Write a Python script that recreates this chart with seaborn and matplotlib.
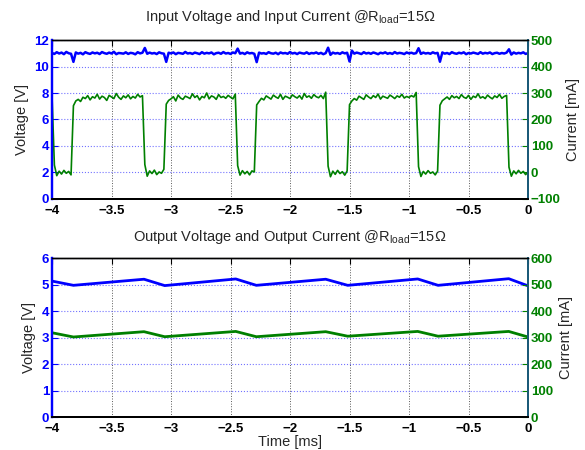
import numpy as np
import matplotlib
matplotlib.use("Agg")
import matplotlib.pyplot as plt
import seaborn as sns

# ---- data read off the scope captures ----
# top panel: sampled every 0.02 ms from -4 to 0 ms (201 samples)
t_in = np.linspace(-4, 0, 201)

v_in = [
    11.02, 10.95, 11.08, 10.98, 11.05, 10.93, 11.10, 11.00, 10.96, 10.35,
    11.06, 10.97, 11.03, 10.92, 11.08, 11.00, 10.95, 11.06, 10.99, 11.04,
    10.94, 11.09, 11.01, 10.96, 11.05, 10.98, 11.11, 10.93, 11.02, 11.00,
    10.97, 11.07, 10.95, 11.03, 11.00, 10.92, 11.08, 10.99, 11.04, 11.40,
    10.96, 11.05, 10.98, 11.02, 10.94, 11.07, 11.00, 10.97, 10.35, 11.04,
    10.99, 11.06, 10.93, 11.03, 11.00, 10.96, 11.10, 10.98, 11.02, 10.95,
    11.05, 11.00, 10.94, 11.08, 10.97, 11.03, 10.99, 11.06, 10.92, 11.01,
    11.04, 10.96, 11.09, 10.98, 11.02, 10.95, 11.06, 11.00, 11.35, 10.97,
    11.03, 10.94, 11.07, 10.99, 11.02, 10.96, 10.33, 11.05, 10.98, 11.01,
    10.95, 11.08, 11.00, 10.97, 11.04, 10.93, 11.06, 10.99, 11.02, 10.96,
    11.09, 10.98, 11.03, 10.94, 11.05, 11.00, 10.97, 11.07, 10.95, 11.02,
    10.99, 11.06, 10.96, 11.03, 10.93, 11.01, 11.42, 10.88, 11.05, 10.98,
    11.02, 10.95, 11.07, 10.99, 11.04, 10.38, 11.20, 10.97, 11.05, 11.00,
    10.94, 11.08, 10.98, 11.03, 10.96, 11.06, 11.00, 10.93, 11.04, 10.99,
    11.07, 10.96, 11.02, 10.95, 11.09, 10.98, 11.03, 11.00, 10.94, 11.06,
    10.99, 11.04, 10.97, 11.01, 11.38, 10.95, 11.05, 10.98, 11.02, 10.96,
    11.07, 10.99, 11.03, 10.36, 11.06, 10.97, 11.02, 10.94, 11.08, 11.00,
    10.96, 11.04, 10.99, 11.07, 10.93, 11.02, 10.98, 11.05, 11.00, 10.95,
    11.08, 10.97, 11.03, 10.99, 11.06, 10.94, 11.01, 11.04, 10.96, 11.02,
    10.98, 11.05, 11.30, 10.90, 11.06, 10.97, 11.03, 10.99, 11.07, 10.95,
    11.01,
]

i_in = [
    290,
    28, -12, 5, -6, 8, -3, 4, -9,
    252, 270, 276, 268, 284, 279, 290, 274, 286, 281, 295, 277, 288, 283, 272,
    291, 285, 279, 298, 284, 276, 289, 282, 293, 278, 287, 281, 295, 285, 290,
    30, -14, 6, -4, 9, -8, 2, -3, 12,
    258, 272, 278, 286, 270, 292, 281, 276, 288, 284, 279, 297, 283, 290, 274,
    287, 282, 300, 278, 289, 285, 276, 294, 283, 287, 280, 291, 284, 278, 296,
    26, -10, 7, -5, 4, -9, 6, 2,
    255, 268, 280, 274, 289, 283, 277, 292, 285, 280, 295, 276, 288, 284, 279,
    293, 286, 281, 290, 277, 298, 284, 289, 280, 294, 286, 282, 291, 279, 303,
    24, -16, 5, -7, 8, -4, 3, -10, 6,
    256, 270, 279, 273, 288, 282, 276, 293, 285, 279, 290, 283, 296, 277, 288,
    284, 280, 292, 286, 279, 289, 284, 295, 281, 287, 283, 290, 285, 302,
    22, -15, 4, -6, 7, -3, 2, -9, 5,
    254, 271, 278, 285, 276, 290, 282, 287, 279, 294, 284, 280, 291, 276, 288,
    283, 297, 281, 286, 279, 292, 284, 278, 289, 283, 295, 280, 287, 291,
    20, -14, 6, -5, 8, -3, 4, -8, 2,
]

# bottom panel: ripple corners (ms)
t_out = [-4, -3.82, -3.227, -3.053, -2.456, -2.283, -1.70, -1.515, -0.927, -0.756, -0.162, 0]
v_out = [5.13, 4.97, 5.20, 4.96, 5.21, 4.97, 5.20, 4.97, 5.21, 4.97, 5.22, 4.95]
i_out = [318, 302, 322, 303, 323, 303, 322, 305, 323, 305, 323, 302]

x_ticks = [-4, -3.5, -3, -2.5, -2, -1.5, -1, -0.5, 0]
x_labels = ["\u22124", "\u22123.5", "\u22123", "\u22122.5", "\u22122", "\u22121.5", "\u22121", "\u22120.5", "0"]

sns.set_style("white")
plt.rcParams["font.family"] = ["Liberation Sans", "DejaVu Sans"]
plt.rcParams["mathtext.fontset"] = "custom"
plt.rcParams["mathtext.rm"] = "Liberation Sans"
plt.rcParams["mathtext.it"] = "Liberation Sans"

BLUE = (0, 0, 1)
GREEN = (0, 0.5, 0)
RSPINE = "#1b5a78"

fig = plt.figure(figsize=(5.85, 4.5), dpi=100)
ax_top = fig.add_axes([0.0889, 0.5578, 0.8137, 0.3533])
ax_bot = fig.add_axes([0.0889, 0.0733, 0.8137, 0.3533])


def style_pair(ax, ax2, yl, yr, yl_ticks, yr_ticks):
    ax.set_xlim(-4, 0)
    ax.set_ylim(*yl)
    ax2.set_ylim(*yr)
    ax.set_xticks(x_ticks)
    ax.set_xticklabels(x_labels, fontsize=9.5, fontweight="bold")
    ax.set_yticks(yl_ticks)
    ax.set_yticklabels([str(v) for v in yl_ticks], fontsize=9.5, fontweight="bold", color=BLUE)
    ax2.set_yticks(yr_ticks)
    ax2.set_yticklabels([str(v).replace("-", "\u2212") for v in yr_ticks],
                        fontsize=9.5, fontweight="bold", color=GREEN)
    ax.tick_params(axis="x", direction="in", length=4, width=0.8, top=True, pad=4.5, colors="black")
    ax.tick_params(axis="y", direction="in", length=4, width=0.8, colors=BLUE, pad=2)
    ax2.tick_params(axis="y", direction="in", length=4, width=0.8, colors=GREEN, pad=2)
    ax.set_axisbelow(True)
    ax.grid(True, axis="x", linestyle=":", color="0.35", linewidth=0.7)
    ax.grid(True, axis="y", linestyle=":", color=(0.45, 0.45, 1), linewidth=0.8)
    for a in (ax, ax2):
        a.spines["top"].set_color("black")
        a.spines["top"].set_linewidth(1.0)
        a.spines["bottom"].set_color("black")
        a.spines["bottom"].set_linewidth(1.4)
        a.spines["left"].set_color(BLUE)
        a.spines["left"].set_linewidth(1.6)
        a.spines["right"].set_color(RSPINE)
        a.spines["right"].set_linewidth(1.4)
    ax.set_ylabel("Voltage [V]", fontsize=10.5, labelpad=4)
    ax2.set_ylabel("Current [mA]", fontsize=10.5, labelpad=4)


# top: input voltage / current
ax_top2 = ax_top.twinx()
sns.lineplot(x=t_in, y=v_in, ax=ax_top, color=BLUE, linewidth=1.8)
sns.lineplot(x=t_in, y=i_in, ax=ax_top2, color=GREEN, linewidth=1.2)
style_pair(ax_top, ax_top2, (0, 12), (-100, 500),
           [0, 2, 4, 6, 8, 10, 12], [-100, 0, 100, 200, 300, 400, 500])
ax_top.set_title("Input Voltage and Input Current @R$_{\\mathrm{load}}$=15\u03a9", fontsize=10.5, pad=14)

# bottom: output voltage / current
ax_bot2 = ax_bot.twinx()
sns.lineplot(x=t_out, y=v_out, ax=ax_bot, color=BLUE, linewidth=2.0)
sns.lineplot(x=t_out, y=i_out, ax=ax_bot2, color=GREEN, linewidth=2.0)
style_pair(ax_bot, ax_bot2, (0, 6), (0, 600),
           [0, 1, 2, 3, 4, 5, 6], [0, 100, 200, 300, 400, 500, 600])
ax_bot.set_title("Output Voltage and Output Current @R$_{\\mathrm{load}}$=15\u03a9", fontsize=10.5, pad=12)
ax_bot.set_xlabel("Time [ms]", fontsize=10.5, labelpad=0)

fig.savefig("out.png", dpi=100)
